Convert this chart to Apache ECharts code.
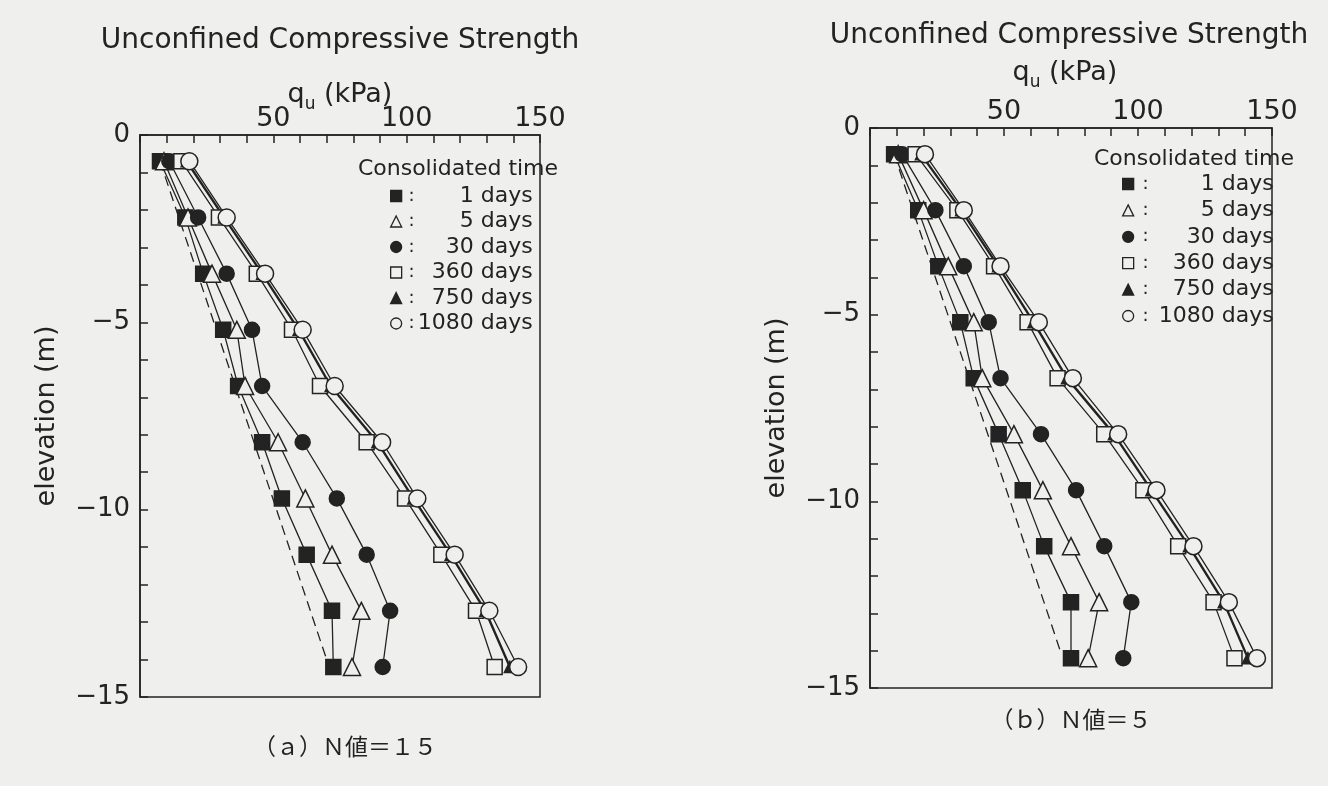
<!DOCTYPE html>
<html><head><meta charset="utf-8">
<script src="https://cdn.jsdelivr.net/npm/echarts@6/dist/echarts.min.js"></script>
<style>html,body{margin:0;padding:0;background:#efefed}#c{width:1328px;height:786px}</style>
</head><body><div id="c"></div>
<script>
// ---------- data ----------
const elevation = [-0.7, -2.2, -3.7, -5.2, -6.7, -8.2, -9.7, -11.2, -12.7, -14.2];
const seriesNames = ['1 days', '5 days', '30 days', '360 days', '750 days', '1080 days'];
const xTickLabels = [50, 100, 150];
const yTickLabels = [0, -5, -10, -15];

// (a) N値=15
const a_1d    = [7.5, 17.0, 23.7, 31.2, 36.8, 45.8, 53.2, 62.5, 72.0, 72.5];
const a_5d    = [9.0, 18.0, 27.0, 36.3, 39.4, 51.8, 62.0, 72.0, 83.0, 79.5];
const a_30d   = [11.0, 21.8, 32.5, 42.0, 45.8, 61.0, 73.8, 85.0, 93.8, 91.0];
const a_360d  = [15.5, 29.6, 43.8, 57.0, 67.5, 85.0, 99.4, 113.0, 126.0, 133.0];
const a_750d  = [17.5, 31.5, 45.8, 59.5, 71.5, 89.0, 102.5, 116.5, 129.5, 138.7];
const a_1080d = [18.5, 32.5, 46.9, 61.0, 73.0, 90.8, 104.0, 118.0, 131.0, 141.8];
const a_dashQ = [7.5, 70.0];
const a_dashE = [-0.7, -14.0];

// (b) N値=5
const b_1d    = [9.0, 18.0, 25.5, 33.7, 38.7, 48.0, 57.0, 65.0, 75.0, 75.0];
const b_5d    = [10.5, 20.0, 29.2, 38.7, 41.9, 53.7, 64.5, 75.0, 85.5, 81.4];
const b_30d   = [12.0, 24.4, 35.0, 44.3, 48.7, 63.8, 76.9, 87.4, 97.5, 94.5];
const b_360d  = [17.0, 32.6, 46.3, 58.8, 70.0, 87.4, 102.0, 115.0, 128.2, 136.0];
const b_750d  = [19.0, 34.0, 47.8, 61.0, 73.5, 91.0, 105.0, 119.0, 132.0, 141.0];
const b_1080d = [20.5, 35.0, 48.7, 63.0, 75.7, 92.6, 106.9, 120.7, 133.9, 144.4];
const b_dashQ = [9.0, 71.2];
const b_dashE = [-0.7, -14.05];

// ---------- style ----------
const INK = '#232323';
const BG = '#efefed';
const FONT = 'DejaVu Sans';
const symbols = ['rect', 'triangle', 'circle', 'rect', 'triangle', 'circle'];
const filled = [true, false, true, false, true, false];
const symSizes = [15, 17, 15, 15, 11, 17];
const lineWidths = [1.3, 1.3, 1.3, 1.3, 2.4, 1.3];

function mkSeries(gi, sets, dq, de) {
  const out = [{
    type: 'line', name: 'dashed', xAxisIndex: gi, yAxisIndex: gi,
    data: dq.map((q, i) => [q, de[i]]), symbol: 'none',
    lineStyle: { color: INK, width: 1.3, type: [10, 6] }, silent: true
  }];
  sets.forEach((vals, k) => {
    out.push({
      type: 'line', name: seriesNames[k], xAxisIndex: gi, yAxisIndex: gi,
      data: vals.map((q, i) => [q, elevation[i]]),
      symbol: symbols[k], symbolSize: symSizes[k],
      itemStyle: { color: filled[k] ? INK : BG, borderColor: INK, borderWidth: 1.5, opacity: 1 },
      lineStyle: { color: INK, width: lineWidths[k] }
    });
  });
  return out;
}

function mkX(gi) {
  return {
    gridIndex: gi, type: 'value', position: 'top', min: 0, max: 150, interval: 10,
    axisLine: { show: true, lineStyle: { color: INK, width: 1.5 } },
    axisTick: { show: true, inside: true, length: 8, lineStyle: { color: INK, width: 1.5 } },
    axisLabel: { fontSize: 27, color: INK, fontFamily: FONT, margin: 3,
      formatter: v => xTickLabels.includes(v) ? String(v) : '' },
    splitLine: { show: false }
  };
}
function mkY(gi) {
  return {
    gridIndex: gi, type: 'value', min: -15, max: 0, interval: 1,
    axisLine: { show: true, lineStyle: { color: INK, width: 1.5 } },
    axisTick: { show: true, inside: true, length: 8, lineStyle: { color: INK, width: 1.5 } },
    axisLabel: { fontSize: 26, color: INK, fontFamily: FONT, margin: 10,
      formatter: v => yTickLabels.includes(v) ? (v < 0 ? '\u2212' + (-v) : '0') : '' },
    splitLine: { show: false },
    name: 'elevation (m)', nameLocation: 'middle', nameGap: 80,
    nameTextStyle: { fontSize: 27, color: INK, fontFamily: FONT }
  };
}

function mkLegend(left, top, gap, cW, tW) {
  return {
    orient: 'vertical', left: left, top: top, itemGap: gap, itemWidth: 11, itemHeight: 11,
    selectedMode: false, padding: 0,
    data: seriesNames.map((n, k) => ({
      name: n, icon: symbols[k],
      itemStyle: { color: filled[k] ? INK : BG, borderColor: INK, borderWidth: 1.3 }
    })),
    formatter: n => '{c|:}{t|' + n + '}',
    textStyle: {
      color: INK, fontFamily: FONT, fontSize: 22, lineHeight: 20,
      rich: {
        c: { width: cW, align: 'center', fontSize: 18, color: INK, fontFamily: FONT },
        t: { width: tW, align: 'right', fontSize: 22, color: INK, fontFamily: FONT }
      }
    }
  };
}

const tStyle = (size) => ({ fontSize: size, color: INK, fontFamily: FONT, fontWeight: 'normal' });
const quText = '{q|q}{u|u}{k| (kPa)}';
const quRich = {
  q: { fontSize: 27, color: INK, fontFamily: FONT, lineHeight: 36, verticalAlign: 'middle' },
  u: { fontSize: 17, color: INK, fontFamily: FONT, lineHeight: 17, verticalAlign: 'bottom' },
  k: { fontSize: 27, color: INK, fontFamily: FONT, lineHeight: 36, verticalAlign: 'middle' }
};

const option = {
  backgroundColor: BG,
  animation: false,
  title: [
    { text: 'Unconfined Compressive Strength', left: 335, top: 22, textAlign: 'center', textStyle: tStyle(28) },
    { text: quText, left: 335, top: 72, textAlign: 'center', textStyle: Object.assign(tStyle(27), { rich: quRich }) },
    { text: 'Unconfined Compressive Strength', left: 1064, top: 17, textAlign: 'center', textStyle: tStyle(28) },
    { text: quText, left: 1060, top: 50, textAlign: 'center', textStyle: Object.assign(tStyle(27), { rich: quRich }) },
    { text: 'Consolidated time', left: 453, top: 153, textAlign: 'center', textStyle: tStyle(22) },
    { text: 'Consolidated time', left: 1189, top: 143, textAlign: 'center', textStyle: tStyle(22) },
    { text: '（ａ）Ｎ値＝１５', left: 340, top: 730, textAlign: 'center',
      textStyle: { fontSize: 23, color: INK, fontFamily: 'Noto Sans CJK JP', fontWeight: 'normal' } },
    { text: '（ｂ）Ｎ値＝５', left: 1066, top: 703, textAlign: 'center',
      textStyle: { fontSize: 23, color: INK, fontFamily: 'Noto Sans CJK JP', fontWeight: 'normal' } }
  ],
  legend: [
    mkLegend(390, 185, 3.5, 10, 116),
    mkLegend(1122, 173, 4.4, 14, 121)
  ],
  grid: [
    { left: 140, top: 135, width: 400, height: 562, show: true, borderColor: INK, borderWidth: 1.5, backgroundColor: 'transparent' },
    { left: 870, top: 128, width: 402, height: 560, show: true, borderColor: INK, borderWidth: 1.5, backgroundColor: 'transparent' }
  ],
  xAxis: [mkX(0), mkX(1)],
  yAxis: [mkY(0), mkY(1)],
  series: [].concat(
    mkSeries(0, [a_1d, a_5d, a_30d, a_360d, a_750d, a_1080d], a_dashQ, a_dashE),
    mkSeries(1, [b_1d, b_5d, b_30d, b_360d, b_750d, b_1080d], b_dashQ, b_dashE)
  )
};

const chart = echarts.init(document.getElementById('c'), null, { renderer: 'canvas' });
chart.setOption(option);
</script>
</body></html>
